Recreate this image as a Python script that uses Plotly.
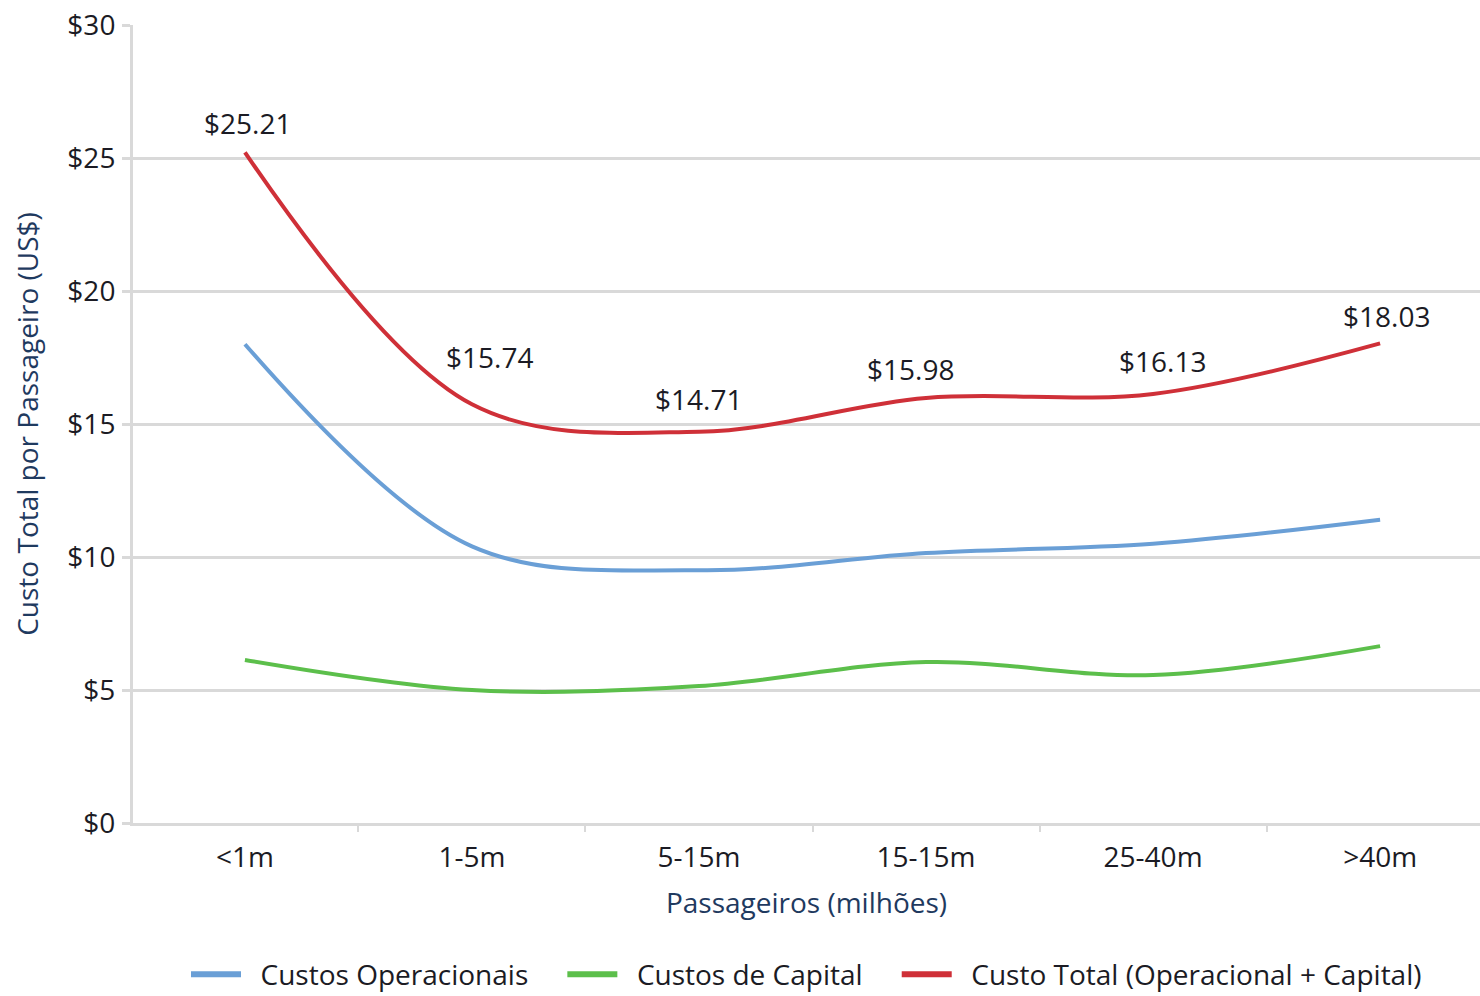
import plotly.graph_objects as go

categories = ["<1m", "1-5m", "5-15m", "15-15m", "25-40m", ">40m"]
custos_operacionais = [18.0, 10.4, 9.5, 10.15, 10.5, 11.4]
custos_capital = [6.13, 5.0, 5.15, 6.05, 5.56, 6.65]
custo_total = [25.21, 15.74, 14.71, 15.98, 16.13, 18.03]
y_ticks = [0, 5, 10, 15, 20, 25, 30]
y_tick_labels = ["$" + str(v) for v in y_ticks]

# pixel nudges for the value labels so they clear the curve
label_dx = [3, 18, -1, -16, 9, 6]
label_dy = [8, 26, 12, 8, 12, 6]

FONT = "Open Sans, Segoe UI, sans-serif"
FS = 28
TEXT = "#1b1b24"
NAVY = "#1f3a5f"
GRID = "#d9d9d9"
LEAD = "\u00a0" * 2
TRAIL = "\u00a0" * 4

series = [
    ("Custos Operacionais", custos_operacionais, "#6a9fd6", True),
    ("Custos de Capital", custos_capital, "#5cbf4b", True),
    ("Custo Total (Operacional + Capital)", custo_total, "#cf3038", False),
]

xpos = list(range(len(categories)))

fig = go.Figure()
for name, values, color, trail in series:
    fig.add_trace(go.Scatter(
        x=xpos, y=values, mode="lines", name=name, showlegend=False,
        line=dict(color=color, width=4, shape="spline", smoothing=1.0),
    ))
# legend keys drawn with a slightly heavier stroke
for name, values, color, trail in series:
    fig.add_trace(go.Scatter(
        x=[None], y=[None], mode="lines",
        name=LEAD + name + (TRAIL if trail else ""),
        line=dict(color=color, width=6),
    ))

for x, v, dx, dy in zip(xpos, custo_total, label_dx, label_dy):
    fig.add_annotation(
        x=x, y=v, text="${:.2f}".format(v), showarrow=False,
        xanchor="center", yanchor="bottom", xshift=dx, yshift=dy,
        font=dict(family=FONT, size=FS, color=TEXT),
    )

fig.update_layout(
    width=1480, height=996,
    margin=dict(l=133, r=0, t=25, b=173, autoexpand=False),
    paper_bgcolor="white", plot_bgcolor="white",
    font=dict(family=FONT, size=FS, color=TEXT),
    showlegend=True,
    legend=dict(
        orientation="h", x=0.5, xanchor="center", y=-0.19, yanchor="middle",
        font=dict(family=FONT, size=FS, color=TEXT),
        itemwidth=50, tracegroupgap=0,
        bgcolor="rgba(0,0,0,0)",
    ),
)

fig.update_xaxes(
    range=[-0.493, 5.44], automargin=False,
    tickmode="array", tickvals=xpos, ticktext=categories,
    ticks="", showgrid=False, zeroline=False,
    showline=True, linecolor=GRID, linewidth=3,
    tickfont=dict(family=FONT, size=FS, color=TEXT),
    ticklabelstandoff=7,
    minor=dict(tick0=-0.5, dtick=1, ticks="outside", ticklen=6,
               tickwidth=2, tickcolor=GRID, showgrid=False),
    title=dict(text="Passageiros (milhões)", standoff=20,
               font=dict(family=FONT, size=FS, color=NAVY)),
)

fig.update_yaxes(
    range=[0, 30], automargin=False,
    tickmode="array", tickvals=y_ticks, ticktext=y_tick_labels,
    ticks="outside", ticklen=8, tickwidth=3, tickcolor=GRID,
    showgrid=True, gridcolor=GRID, gridwidth=3,
    zeroline=False, showline=True, linecolor=GRID, linewidth=3,
    tickfont=dict(family=FONT, size=FS, color=TEXT),
    ticklabelstandoff=1,
    title=dict(text="Custo Total por Passageiro (US$)", standoff=21,
               font=dict(family=FONT, size=FS, color=NAVY)),
)

fig.write_html("out.html")
